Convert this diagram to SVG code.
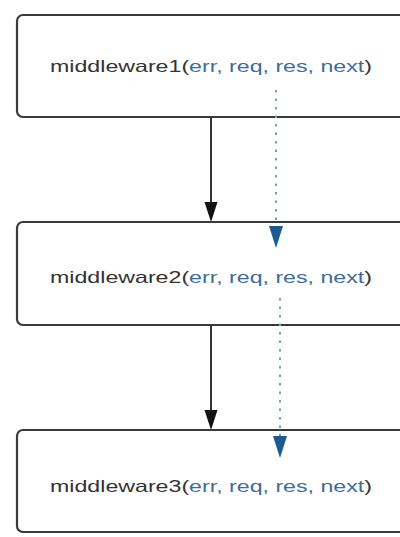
<svg xmlns="http://www.w3.org/2000/svg" width="400" height="537" viewBox="0 0 400 537">
<defs>
<style>
.box{fill:#fff;stroke:#3a3a3a;stroke-width:2.2}
.lbl{font-family:"Liberation Sans",Arial,sans-serif;font-size:16.5px;fill:#333}
.arg{fill:#3f6c9a}
.flow{stroke:#333;stroke-width:2;fill:none}
.err{stroke:#7f9bb5;stroke-width:2;stroke-dasharray:2.5 6;fill:none}
.headb{fill:#111}
.headu{fill:#1d5a8e}
</style>
</defs>
<rect width="400" height="537" fill="#fff"/>
<g id="node1">
<rect class="box" x="17" y="15" width="400" height="102" rx="6"/>
<text class="lbl" x="50" y="72" textLength="322" lengthAdjust="spacingAndGlyphs">middleware1(<tspan class="arg">err, req, res, next</tspan>)</text>
</g>
<g id="node2">
<rect class="box" x="17" y="222" width="400" height="103" rx="6"/>
<text class="lbl" x="50" y="283" textLength="322" lengthAdjust="spacingAndGlyphs">middleware2(<tspan class="arg">err, req, res, next</tspan>)</text>
</g>
<g id="node3">
<rect class="box" x="17" y="430" width="400" height="102" rx="6"/>
<text class="lbl" x="50" y="492" textLength="322" lengthAdjust="spacingAndGlyphs">middleware3(<tspan class="arg">err, req, res, next</tspan>)</text>
</g>
<g id="connectors">
<line class="flow" x1="211" y1="118" x2="211" y2="204"/>
<polygon class="headb" points="204.5,202 217.5,202 211,222"/>
<line class="flow" x1="211" y1="326" x2="211" y2="412"/>
<polygon class="headb" points="204.5,410 217.5,410 211,430"/>
<line class="err" x1="276" y1="90" x2="276" y2="226"/>
<polygon class="headu" points="269,226 283,226 276,248"/>
<line class="err" x1="280" y1="298" x2="280" y2="436"/>
<polygon class="headu" points="273,436 287,436 280,458"/>
</g>
</svg>
